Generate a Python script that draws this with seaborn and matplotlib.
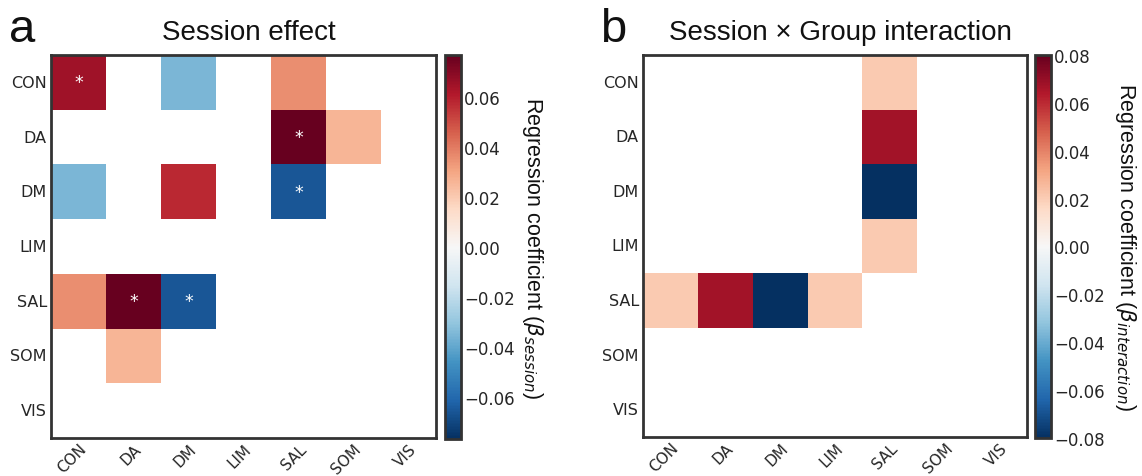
import numpy as np
import pandas as pd
import matplotlib
matplotlib.use("Agg")
import matplotlib.pyplot as plt
import seaborn as sns

networks = ["CON", "DA", "DM", "LIM", "SAL", "SOM", "VIS"]

# Session effect: significant network pairs (upper triangle incl. diagonal)
session_pairs = [("CON", "CON"), ("CON", "DM"), ("CON", "SAL"),
                 ("DA", "SAL"), ("DA", "SOM"), ("DM", "DM"), ("DM", "SAL")]
session_values = [0.065, -0.035, 0.036, 0.077, 0.026, 0.058, -0.066]
session_starred = [("CON", "CON"), ("DA", "SAL"), ("DM", "SAL")]

# Session x Group interaction
interaction_pairs = [("CON", "SAL"), ("DA", "SAL"), ("DM", "SAL"), ("LIM", "SAL")]
interaction_values = [0.021, 0.067, -0.080, 0.021]
interaction_starred = []


def build_matrix(pairs, values):
    m = pd.DataFrame(np.nan, index=networks, columns=networks)
    for (a, b), v in zip(pairs, values):
        m.loc[a, b] = v
        m.loc[b, a] = v
    return m


sns.set_theme(style="white")
plt.rcParams["font.family"] = ["DejaVu Sans"]
plt.rcParams["axes.edgecolor"] = "#333333"
plt.rcParams["axes.linewidth"] = 2.0

fig = plt.figure(figsize=(11.42, 4.77), dpi=100)
W, H = 1142, 477


def px_axes(x0, y0, x1, y1):
    return fig.add_axes([x0 / W, 1 - y1 / H, (x1 - x0) / W, (y1 - y0) / H])


panels = [
    dict(ax=(51, 56, 436, 439), cax=(445, 56, 461, 440),
         pairs=session_pairs, values=session_values, starred=session_starred,
         title="Session effect", letter="a", letter_x=9,
         ticks=[0.06, 0.04, 0.02, 0.0, -0.02, -0.04, -0.06],
         label=r"Regression coefficient ($\beta_{session}$)", labelpad=22),
    dict(ax=(643, 56, 1027, 438), cax=(1035, 56, 1051, 439),
         pairs=interaction_pairs, values=interaction_values, starred=interaction_starred,
         title="Session \u00d7 Group interaction", letter="b", letter_x=600,
         ticks=[0.08, 0.06, 0.04, 0.02, 0.0, -0.02, -0.04, -0.06, -0.08],
         label=r"Regression coefficient ($\beta_{interaction}$)", labelpad=24),
]

for p in panels:
    ax = px_axes(*p["ax"])
    cax = px_axes(*p["cax"])
    mat = build_matrix(p["pairs"], p["values"])
    vmax = np.nanmax(np.abs(mat.values))
    sns.heatmap(mat, ax=ax, cbar_ax=cax, cmap="RdBu_r", vmin=-vmax, vmax=vmax,
                center=0, square=False, linewidths=0)
    for a, b in p["starred"]:
        for r, c in {(a, b), (b, a)}:
            ax.text(networks.index(c) + 0.5, networks.index(r) + 0.5, "*",
                    color="white", ha="center", va="center", fontsize=12.5)
    for s in ax.spines.values():
        s.set_visible(True)
        s.set_color("#333333")
        s.set_linewidth(2.0)
    ax.set_xlabel("")
    ax.set_ylabel("")
    ax.set_xticklabels(networks, rotation=45, ha="right", rotation_mode="anchor",
                       fontsize=11, color="#262626")
    ax.set_yticklabels(networks, rotation=0, fontsize=11.5, color="#262626")
    ax.tick_params(axis="x", length=0, pad=2)
    ax.tick_params(axis="y", length=0, pad=3)

    x0, y0, x1, y1 = p["ax"]
    fig.text((x0 + x1) / 2 / W + 5 / W, 1 - 40 / H, p["title"], fontsize=20,
             family="Liberation Sans", ha="center", va="baseline", color="#111111")

    cbar = ax.collections[0].colorbar
    cbar.set_ticks(p["ticks"])
    cbar.ax.set_yticklabels([f"{t:.2f}".replace("-", "\u2212") for t in p["ticks"]],
                            fontsize=12, color="#262626")
    cbar.ax.tick_params(length=0, pad=2)
    cbar.outline.set_visible(True)
    cbar.outline.set_edgecolor("#333333")
    cbar.outline.set_linewidth(2.0)
    cbar.set_label(p["label"], rotation=270, labelpad=p["labelpad"], fontsize=15.5,
                   family="Liberation Sans", color="#111111")

    fig.text(p["letter_x"] / W, 1 - 42 / H, p["letter"], fontsize=34,
             family="Liberation Sans", va="baseline", ha="left", color="#111111")

fig.savefig("out.png", dpi=100)
